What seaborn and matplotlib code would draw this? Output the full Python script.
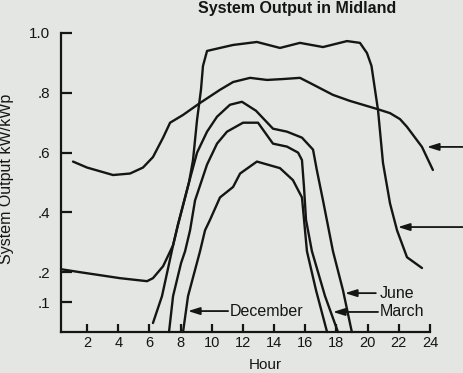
import matplotlib
matplotlib.use("Agg")
import matplotlib.pyplot as plt
import seaborn as sns

# ---------------- data (hour, kW/kWp) ----------------
june_hour = [6.23, 6.81, 7.52, 7.84, 8.54, 9.06, 9.70, 10.34, 11.17, 11.94, 12.84,
             13.93, 14.83, 15.79, 16.50, 16.75, 17.14, 17.78, 18.42, 18.99]
june_val = [0.03, 0.12, 0.29, 0.36, 0.50, 0.60, 0.67, 0.72, 0.76, 0.77, 0.74,
            0.68, 0.67, 0.65, 0.61, 0.54, 0.44, 0.27, 0.14, 0.0]

march_hour = [7.26, 7.52, 8.03, 8.29, 8.61, 8.93, 9.70, 10.34, 10.98, 12.01, 12.97,
              13.93, 14.83, 15.54, 15.79, 15.92, 16.05, 16.43, 17.27, 18.10]
march_val = [0.0, 0.12, 0.23, 0.27, 0.34, 0.44, 0.56, 0.63, 0.67, 0.70, 0.70,
             0.63, 0.62, 0.60, 0.575, 0.485, 0.375, 0.27, 0.12, 0.0]

dec_hour = [8.16, 8.48, 9.25, 9.57, 9.89, 10.53, 11.37, 11.82, 12.90, 14.38,
            15.21, 15.79, 16.11, 16.69, 17.40]
dec_val = [0.0, 0.12, 0.27, 0.34, 0.375, 0.45, 0.485, 0.53, 0.57, 0.548,
           0.508, 0.45, 0.27, 0.14, 0.0]

box_hour = [0.33, 1.55, 2.84, 4.12, 5.85, 6.23, 6.88, 7.52, 7.84, 8.54, 8.80, 9.06,
            9.31, 9.44, 9.70, 10.53, 11.37, 12.90, 14.38, 15.66, 17.14, 18.68,
            19.51, 19.96, 20.25, 20.67, 20.99, 21.44, 21.89, 22.53, 23.49]
box_val = [0.21, 0.20, 0.19, 0.18, 0.17, 0.18, 0.22, 0.29, 0.36, 0.50, 0.575, 0.71,
           0.81, 0.89, 0.94, 0.95, 0.96, 0.97, 0.95, 0.967, 0.953, 0.973,
           0.967, 0.933, 0.89, 0.742, 0.565, 0.43, 0.34, 0.25, 0.214]

wide_hour = [1.10, 2.00, 3.67, 4.76, 5.59, 6.23, 6.88, 7.33, 8.16, 9.25, 10.53,
             11.37, 12.46, 13.55, 14.57, 15.66, 16.30, 17.78, 18.86, 20.60,
             21.44, 22.08, 22.53, 23.49, 24.19]
wide_val = [0.57, 0.55, 0.525, 0.53, 0.55, 0.585, 0.65, 0.70, 0.726, 0.766, 0.81,
            0.836, 0.85, 0.843, 0.846, 0.85, 0.833, 0.793, 0.773, 0.746,
            0.732, 0.712, 0.686, 0.619, 0.542]

x_ticks = [2, 4, 6, 8, 10, 12, 14, 16, 18, 20, 22, 24]
y_ticks = [0.1, 0.2, 0.4, 0.6, 0.8, 1.0]
y_tick_labels = [".1", ".2", ".4", ".6", ".8", "1.0"]

# labelled arrows: (text, text_x, text_y, arrow_tail_x, arrow_head_x)
labels = [("December", 11.17, 0.070, 11.05, 8.48),
          ("June", 20.79, 0.130, 20.53, 18.55),
          ("March", 20.79, 0.067, 20.67, 17.78)]
# unlabelled arrows on the right edge: (y, tail_x, head_x)
plain_arrows = [(0.619, 26.1, 23.81), (0.351, 26.1, 21.95)]

# ---------------- drawing ----------------
sns.set_style("ticks")
plt.rcParams['font.family'] = ['Liberation Sans', 'DejaVu Sans']

bg = '#e3e6e3'
ink = '#151515'
fig = plt.figure(figsize=(4.63, 3.73), dpi=100)
fig.patch.set_facecolor(bg)
ax = fig.add_axes([61 / 463, 1 - 332 / 373, 373.6 / 463, 299 / 373])
ax.set_facecolor(bg)

for hrs, vals in [(june_hour, june_val), (march_hour, march_val),
                  (dec_hour, dec_val), (box_hour, box_val), (wide_hour, wide_val)]:
    sns.lineplot(x=hrs, y=vals, ax=ax, estimator=None, sort=False, color=ink,
                 lw=1.7, clip_on=False, solid_joinstyle='round',
                 solid_capstyle='round')

ax.set_xlim(0.33, 24.3)
ax.set_ylim(0, 1.0)
ax.spines['top'].set_visible(False)
ax.spines['right'].set_visible(False)
for s in ['left', 'bottom']:
    ax.spines[s].set_linewidth(1.6)
    ax.spines[s].set_color(ink)
ax.spines['bottom'].set_bounds(0.33, 24)
ax.spines['left'].set_bounds(0, 1.0)

ax.set_xticks(x_ticks)
ax.set_xticklabels([str(t) for t in x_ticks])
ax.set_yticks(y_ticks)
ax.set_yticklabels(y_tick_labels)
ax.tick_params(axis='x', direction='in', length=6, width=1.6, color=ink,
               labelsize=10.5, pad=3, labelcolor=ink)
ax.tick_params(axis='y', direction='in', length=8, width=1.6, color=ink,
               labelsize=11, pad=8, labelcolor=ink)

ax.set_xlabel("Hour", fontsize=11, color=ink)
ax.set_ylabel("System Output kW/kWp", fontsize=11.5, color=ink)
ax.xaxis.set_label_coords(0.546, -0.087)
ax.yaxis.set_label_coords(-0.125, 0.512)

fig.text(297 / 463, 1 - 13 / 373, "System Output in Midland", ha='center',
         va='baseline', fontsize=11.5, fontweight='bold', color=ink)

aprops = dict(arrowstyle='-|>,head_length=0.7,head_width=0.22', lw=1.3,
              color=ink, shrinkA=0, shrinkB=0)
for txt, tx, ty, tail, head in labels:
    ax.text(tx, ty, txt, ha='left', va='center', fontsize=11.5, color=ink,
            clip_on=False)
    ax.annotate('', xy=(head, ty), xytext=(tail, ty), arrowprops=aprops,
                annotation_clip=False)
for y, tail, head in plain_arrows:
    ax.annotate('', xy=(head, y), xytext=(tail, y), arrowprops=aprops,
                annotation_clip=False)

fig.savefig('out.png', dpi=100, facecolor=bg)
